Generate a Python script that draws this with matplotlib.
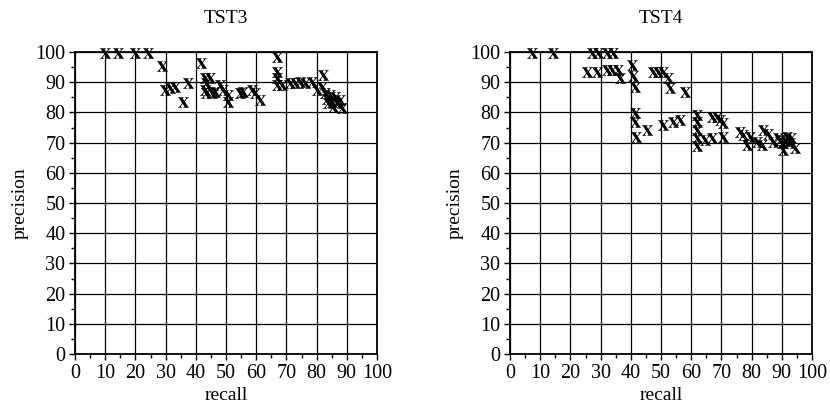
import numpy as np
import matplotlib.pyplot as plt
from matplotlib.ticker import MultipleLocator

plt.rcParams['font.family'] = ['Liberation Serif', 'DejaVu Serif']
plt.rcParams['mathtext.fontset'] = 'stix'

# TST3 (recall, precision)
tst3_recall = [9.9, 14.3, 19.9, 24.3, 28.7, 29.8, 31.5, 33.1, 37.5, 35.9,
               41.7, 43.0, 44.7, 43.3, 43.0, 43.3, 45.3, 46.4, 48.0, 49.1,
               50.5, 50.5, 54.6, 55.7, 58.5, 59.6, 61.3,
               66.8, 66.8, 66.8, 66.8, 68.4, 71.2, 72.8, 74.5, 76.2, 78.4,
               80.0, 82.2, 81.7, 82.8, 83.3, 84.4, 85.0, 86.1, 86.6, 87.7,
               88.3, 83.9, 85.5]
tst3_precision = [99.8, 99.8, 99.8, 99.8, 95.4, 87.4, 88.0, 88.3, 89.8, 83.6,
                  96.5, 91.3, 91.3, 89.6, 87.4, 86.3, 86.3, 86.9, 89.0, 87.4,
                  85.8, 83.6, 86.5, 86.7, 87.4, 86.5, 84.1,
                  98.4, 93.5, 91.3, 89.0, 89.0, 89.6, 89.6, 90.2, 89.8, 90.2,
                  87.4, 92.4, 88.5, 86.3, 84.6, 85.8, 83.6, 85.2, 83.0, 84.1,
                  81.3, 83.0, 81.9]

# TST4 (recall, precision)
tst4_recall = [7.2, 14.3, 27.0, 29.2, 32.0, 34.1,
               25.4, 28.7, 32.0, 33.7, 35.9, 40.3, 36.4, 40.8, 41.4,
               47.4, 49.0, 50.7, 52.4, 53.0, 57.9,
               41.4, 41.4, 41.7, 45.3, 50.8, 54.1, 56.3,
               61.8, 61.8, 61.8, 61.8, 61.8, 64.6, 66.8, 70.6,
               66.8, 68.4, 69.5, 70.6,
               76.2, 77.3, 78.4, 79.5, 81.7, 83.3, 83.9, 85.5, 87.2, 88.8,
               90.0, 90.5, 91.6, 92.7, 94.4, 89.5, 91.0, 93.0]
tst4_precision = [99.8, 99.8, 99.8, 99.8, 99.8, 99.8,
                  93.3, 93.5, 94.0, 94.0, 94.0, 95.7, 91.3, 91.9, 88.5,
                  93.5, 93.5, 93.5, 91.3, 88.0, 86.9,
                  79.7, 76.9, 72.0, 74.2, 75.8, 76.9, 77.5,
                  79.1, 76.9, 74.2, 71.4, 68.9, 70.9, 71.4, 72.0,
                  78.6, 78.6, 77.5, 76.4,
                  73.6, 72.5, 69.2, 72.0, 70.3, 69.2, 74.2, 73.0, 70.3, 71.4,
                  69.8, 67.5, 72.0, 69.8, 68.1, 71.0, 70.5, 71.5]

fig = plt.figure(figsize=(8.3, 4.11), dpi=100)
ax1 = fig.add_axes([75 / 830, 57 / 411, 302 / 830, 302 / 411])
ax2 = fig.add_axes([510 / 830, 57 / 411, 302 / 830, 302 / 411])

for ax, rx, py, title in [(ax1, tst3_recall, tst3_precision, 'TST3'),
                          (ax2, tst4_recall, tst4_precision, 'TST4')]:
    ax.scatter(rx, py, marker=r'$\mathbf{x}$', s=60, color='black',
               linewidths=0, zorder=3, clip_on=False)
    ax.set_xlim(0, 100)
    ax.set_ylim(0, 100)
    ax.xaxis.set_major_locator(MultipleLocator(10))
    ax.yaxis.set_major_locator(MultipleLocator(10))
    ax.xaxis.set_minor_locator(MultipleLocator(5))
    ax.yaxis.set_minor_locator(MultipleLocator(5))
    ax.grid(True, which='major', color='black', linewidth=0.9)
    ax.tick_params(which='major', direction='out', length=4, width=1,
                   labelsize=14.5, pad=3)
    ax.tick_params(which='minor', direction='out', length=3, width=1)
    for s in ax.spines.values():
        s.set_linewidth(1.3)
        s.set_color('black')
    ax.set_title(title, fontsize=14, pad=21)
    ax.set_xlabel('recall', fontsize=14, labelpad=3)
    ax.set_ylabel('precision', fontsize=14, labelpad=5)

fig.savefig('out.png', dpi=100)
